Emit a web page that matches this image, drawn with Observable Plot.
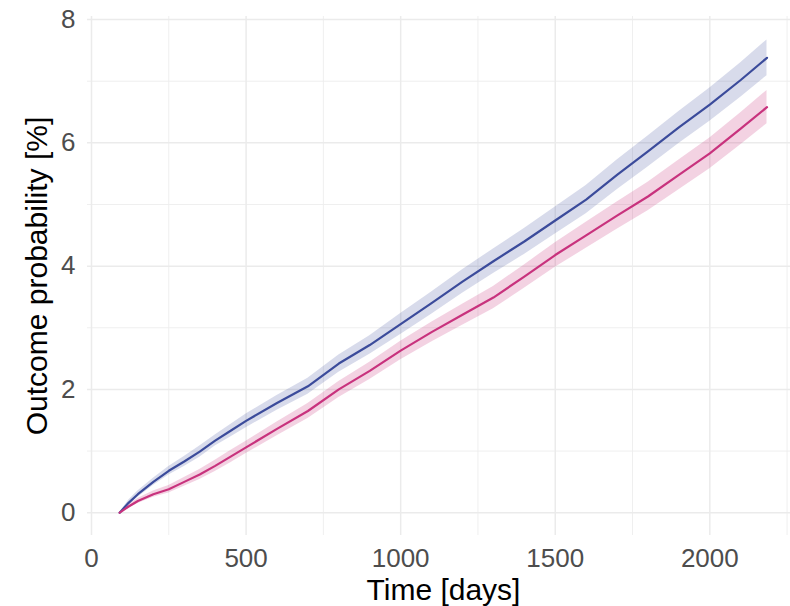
<!DOCTYPE html>
<html>
<head>
<meta charset="utf-8">
<script src="https://cdn.jsdelivr.net/npm/d3@7"></script>
<script src="https://cdn.jsdelivr.net/npm/@observablehq/plot@0.6"></script>
<style>
  html, body { margin: 0; padding: 0; background: #ffffff; }
  #chart { width: 790px; height: 606px; }
</style>
</head>
<body>
<div id="chart"></div>
<script>
// Time points (days)
const days = [91, 120, 150, 200, 250, 300, 350, 400, 450, 500, 600, 700, 800, 900, 1000, 1100, 1200, 1300, 1400, 1500, 1600, 1700, 1800, 1900, 2000, 2100, 2185];

// Blue group: estimate, lower, upper (%)
const blueEst = [0, 0.16, 0.30, 0.50, 0.68, 0.83, 0.99, 1.17, 1.33, 1.49, 1.78, 2.05, 2.42, 2.72, 3.06, 3.40, 3.75, 4.08, 4.40, 4.74, 5.08, 5.48, 5.86, 6.25, 6.62, 7.02, 7.38];
const blueLo  = [0, 0.12, 0.25, 0.44, 0.61, 0.75, 0.90, 1.08, 1.23, 1.38, 1.66, 1.92, 2.28, 2.57, 2.89, 3.22, 3.56, 3.88, 4.19, 4.52, 4.85, 5.24, 5.61, 5.99, 6.35, 6.74, 7.09];
const blueHi  = [0, 0.20, 0.35, 0.56, 0.75, 0.91, 1.08, 1.26, 1.43, 1.60, 1.90, 2.18, 2.56, 2.87, 3.23, 3.58, 3.94, 4.28, 4.61, 4.96, 5.31, 5.72, 6.11, 6.51, 6.89, 7.30, 7.67];

// Pink group: estimate, lower, upper (%)
const pinkEst = [0, 0.10, 0.19, 0.30, 0.38, 0.50, 0.62, 0.76, 0.91, 1.06, 1.36, 1.65, 2.00, 2.30, 2.63, 2.93, 3.21, 3.49, 3.83, 4.18, 4.50, 4.82, 5.13, 5.48, 5.83, 6.23, 6.58];
const pinkLo  = [0, 0.07, 0.15, 0.25, 0.32, 0.43, 0.54, 0.67, 0.81, 0.96, 1.25, 1.53, 1.87, 2.16, 2.48, 2.77, 3.04, 3.31, 3.64, 3.98, 4.29, 4.60, 4.90, 5.24, 5.58, 5.97, 6.31];
const pinkHi  = [0, 0.13, 0.23, 0.35, 0.44, 0.57, 0.70, 0.85, 1.01, 1.16, 1.47, 1.77, 2.13, 2.44, 2.78, 3.09, 3.38, 3.67, 4.02, 4.38, 4.71, 5.04, 5.36, 5.72, 6.08, 6.49, 6.85];

// Axis ticks
const xMajor = [0, 500, 1000, 1500, 2000];
const xMinor = [250, 750, 1250, 1750, 2250];
const yMajor = [0, 2, 4, 6, 8];
const yMinor = [1, 3, 5, 7];

const xTitle = "Time [days]";
const yTitle = "Outcome probability [%]";

const blueColor = "#3b4b9b";
const pinkColor = "#c8327d";

const blue = days.map((d, i) => ({t: d, est: blueEst[i], lo: blueLo[i], hi: blueHi[i]}));
const pink = days.map((d, i) => ({t: d, est: pinkEst[i], lo: pinkLo[i], hi: pinkHi[i]}));

const font = "'Liberation Sans', Arial, Helvetica, sans-serif";

const chart = Plot.plot({
  width: 790,
  height: 606,
  marginLeft: 87,
  marginRight: 0,
  marginTop: 16,
  marginBottom: 71,
  style: { fontFamily: font, background: "#ffffff" },
  x: { domain: [-13, 2261] },
  y: { domain: [-0.37, 8.05] },
  marks: [
    Plot.ruleX(xMinor, { stroke: "#ededed", strokeWidth: 0.9 }),
    Plot.ruleY(yMinor, { stroke: "#ededed", strokeWidth: 0.9 }),
    Plot.ruleX(xMajor, { stroke: "#ebebeb", strokeWidth: 1.5 }),
    Plot.ruleY(yMajor, { stroke: "#ebebeb", strokeWidth: 1.5 }),
    Plot.areaY(blue, { x: "t", y1: "lo", y2: "hi", fill: blueColor, fillOpacity: 0.2 }),
    Plot.areaY(pink, { x: "t", y1: "lo", y2: "hi", fill: pinkColor, fillOpacity: 0.22 }),
    Plot.lineY(blue, { x: "t", y: "est", stroke: blueColor, strokeWidth: 2.2 }),
    Plot.lineY(pink, { x: "t", y: "est", stroke: pinkColor, strokeWidth: 2.2 }),
    Plot.axisX(xMajor, { tickSize: 0, tickPadding: 13, fontSize: 26, fill: "#4d4d4d", label: null, tickFormat: d3.format("d") }),
    Plot.axisY(yMajor, { tickSize: 0, tickPadding: 12, fontSize: 26, fill: "#4d4d4d", label: null, tickFormat: d3.format("d") }),
    Plot.text([xTitle], { frameAnchor: "bottom", textAnchor: "middle", lineAnchor: "middle", dx: 4.5, dy: 55, fontSize: 30, fill: "#000000" }),
    Plot.text([yTitle], { frameAnchor: "left", textAnchor: "middle", lineAnchor: "middle", rotate: -90, dx: -50, fontSize: 30, fill: "#000000" })
  ]
});

document.getElementById("chart").appendChild(chart);
</script>
</body>
</html>
